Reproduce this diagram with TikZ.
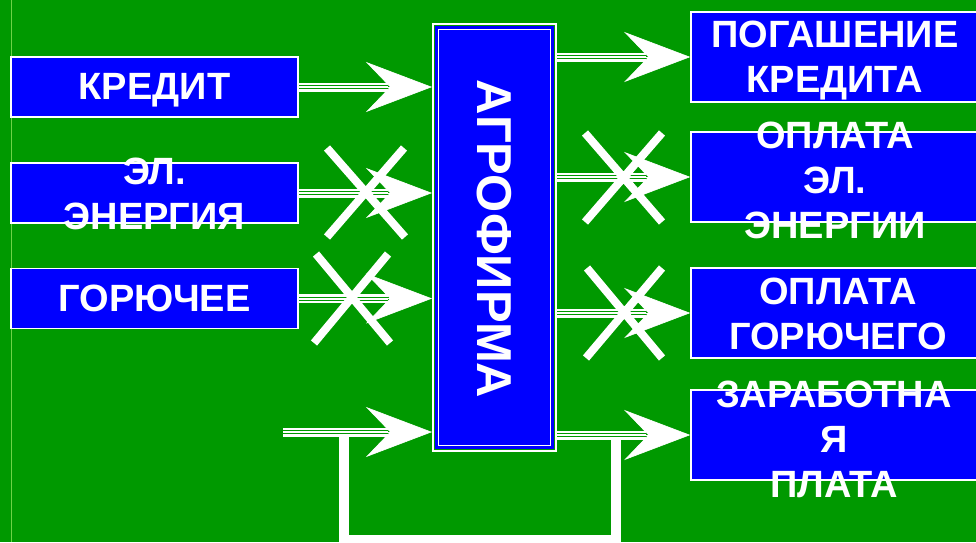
\documentclass[tikz,border=0pt]{standalone}
\usepackage{fontspec}
\setmainfont{Liberation Sans}
\usetikzlibrary{arrows.meta}
\definecolor{bg}{RGB}{0,153,0}
\definecolor{bx}{RGB}{0,0,255}
\definecolor{edgeline}{RGB}{110,210,70}
\begin{document}
\begin{tikzpicture}[x=1pt,y=-1pt,
  lbox/.style={draw=white, line width=1.5pt, fill=bx, minimum width=287pt, minimum height=60pt, inner sep=0pt},
  rbox/.style={draw=white, line width=1.5pt, fill=bx, minimum width=290pt, minimum height=90pt, inner sep=0pt},
  txt/.style={text=white, font=\fontsize{38}{45}\selectfont\bfseries, align=center, inner sep=0pt},
  conn/.style={draw=white, line width=9pt, shorten >=44pt,
     postaction={draw=bg, line width=1pt, double=white, double distance=2pt, shorten >=44pt},
     postaction={draw=white, line width=0.6pt, shorten >=0pt, -{Stealth[length=66pt, width=50pt, inset=24pt]}}},
  crossline/.style={white, line width=8pt},
  loopline/.style={white, line width=10pt}]
\useasboundingbox (0,0) rectangle (976,542);
\fill[bg] (0,0) rectangle (976,542);
\draw[edgeline, line width=1.5pt] (11.5,0) -- (11.5,542);

% central box
\node[draw=white, line width=2pt, minimum width=123pt, minimum height=427pt, inner sep=0pt] (agro) at (494.5,237.5) {};
\node[fill=bx, minimum width=119pt, minimum height=423pt, inner sep=0pt] (agroin) at (agro.center) {};
\draw[white, line width=1.5pt] ([shift={(3.5,3.5)}]agroin.north west) rectangle ([shift={(-3.5,-3.5)}]agroin.south east);
\node[text=white, font=\fontsize{49}{50}\selectfont\bfseries, inner sep=0pt, rotate=-90] (agrotxt) at ([yshift=-1.5pt]agro.center) {АГРОФИРМА};

% left boxes
\node[lbox] (kred) at (154.5,87) {};
\node[txt] (kredtxt) at (154.5,90) {КРЕДИТ};
\node[lbox] (elen) at (154.5,193) {};
\node[txt] (elentxt) at (154.5,194) {ЭЛ.\\ЭНЕРГИЯ};
\node[lbox] (gor) at (154.5,298.5) {};
\node[txt] (gortxt) at (gor) {ГОРЮЧЕЕ};

% right boxes
\node[rbox] (pog) at (836,57) {};
\node[txt] (pogtxt) at (835,61) {ПОГАШЕНИЕ\\КРЕДИТА};
\node[rbox] (opel) at (836,177) {};
\node[txt] (opeltxt) at (835,180) {ОПЛАТА\\ЭЛ.\\ЭНЕРГИИ};
\node[rbox] (opgor) at (836,313) {};
\node[txt] (opgortxt) at (838,314) {ОПЛАТА\\ГОРЮЧЕГО};
\node[rbox] (zp) at (836,435) {};
\node[txt] (zptxt) at (834,439) {ЗАРАБОТНА\\Я\\ПЛАТА};

% feedback loop
\coordinate (in4) at (283,432);
\coordinate (la) at (343.5,432);
\coordinate (lb) at (616,435);
\draw[loopline] (lb) -- ++(0,105) -| (la);

% connectors
\draw[conn] (kred.east) -- (kred.east -| agro.west);
\draw[conn] (elen.east) -- (elen.east -| agro.west);
\draw[conn] (gor.east) -- (gor.east -| agro.west);
\draw[conn] (in4) -- (in4 -| agro.west);
\draw[conn] (agro.east |- pog.west) -- (pog.west);
\draw[conn] (agro.east |- opel.west) -- (opel.west);
\draw[conn] (agro.east |- opgor.west) -- (opgor.west);
\draw[conn] (agro.east |- zp.west) -- (zp.west);

% crosses
\draw[crossline] (327,148) -- (405,237) (404,148) -- (327,237);
\draw[crossline] (316,254) -- (390,343) (388,254) -- (314,343);
\draw[crossline] (585,133) -- (662,222) (662,133) -- (585,222);
\draw[crossline] (587,268) -- (662,358) (662,268) -- (586,358);
\end{tikzpicture}
\end{document}
